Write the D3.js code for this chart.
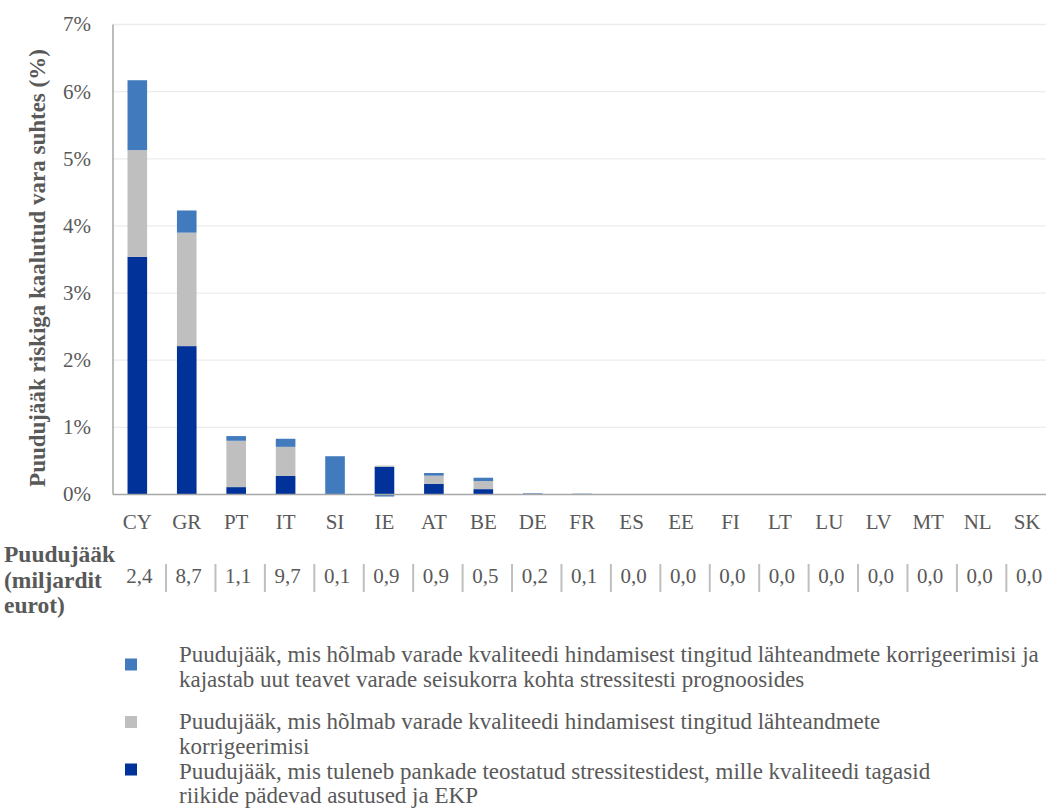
<!DOCTYPE html>
<html><head><meta charset="utf-8">
<script src="https://cdn.jsdelivr.net/npm/d3@7"></script>
<style>
html,body{margin:0;padding:0;background:#fff;}
</style></head>
<body><svg id="c" width="1046" height="808"></svg>
<script>
const categories = ["CY","GR","PT","IT","SI","IE","AT","BE","DE","FR","ES","EE","FI","LT","LU","LV","MT","NL","SK"];
// % of risk-weighted assets
const stressTest = [3.54,2.21,0.11,0.28,0,0.41,0.16,0.08,0.012,0,0,0,0,0,0,0,0,0,0];
const aqrAdjust  = [1.59,1.69,0.69,0.43,0,0.02,0.12,0.12,0,0.006,0,0,0,0,0,0,0,0,0];
const aqrJoin    = [1.04,0.33,0.07,0.12,0.57,-0.03,0.04,0.05,0.006,0.006,0,0,0,0,0,0,0,0,0];
const shortfallBn = [2.4,8.7,1.1,9.7,0.1,0.9,0.9,0.5,0.2,0.1,0,0,0,0,0,0,0,0,0];
const yTicks = [0,1,2,3,4,5,6,7];
const seriesKeys = ["stressTest","aqrAdjust","aqrJoin"];
const seriesColors = {stressTest:"#003299", aqrAdjust:"#bfbfbf", aqrJoin:"#417abd"};
const legendItems = [
  {key:"aqrJoin", lines:["Puudujääk, mis hõlmab varade kvaliteedi hindamisest tingitud lähteandmete korrigeerimisi ja","kajastab uut teavet varade seisukorra kohta stressitesti prognoosides"]},
  {key:"aqrAdjust", lines:["Puudujääk, mis hõlmab varade kvaliteedi hindamisest tingitud lähteandmete","korrigeerimisi"]},
  {key:"stressTest", lines:["Puudujääk, mis tuleneb pankade teostatud stressitestidest, mille kvaliteedi tagasid","riikide pädevad asutused ja EKP"]}
];
const yTitle = "Puudujääk riskiga kaalutud vara suhtes (%)";
const tableLabel = ["Puudujääk","(miljardit","eurot)"];

const FONT = '"Liberation Serif", "Times New Roman", serif';
const rows = categories.map((c,i)=>({cat:c, stressTest:stressTest[i], aqrAdjust:aqrAdjust[i], aqrJoin:aqrJoin[i]}));
const svg = d3.select("#c");
const textCol = "#595959";
const left = 113, right = 1046;

const x = d3.scaleBand().domain(categories).range([112.6, 112.6+19*49.43]).padding(0);
const y = d3.scaleLinear().domain([0,7]).range([494.5, 24.5]);
const barW = 19.6;

function txt(sel){ return sel.style("font-family",FONT).attr("fill",textCol); }

// gridlines
svg.append("g").selectAll("line").data(yTicks.filter(d=>d>0)).join("line")
  .attr("x1",left).attr("x2",right).attr("y1",d=>y(d)).attr("y2",d=>y(d))
  .attr("stroke","#ececec").attr("stroke-width",1.3);

// y tick labels
txt(svg.append("g").selectAll("text").data(yTicks).join("text"))
  .attr("x",91).attr("y",d=>y(d)).attr("dy","0.33em").attr("text-anchor","end")
  .attr("font-size",21).text(d=>d+"%");

// stacked bars
const stack = d3.stack().keys(seriesKeys).offset(d3.stackOffsetDiverging);
const layers = stack(rows);
svg.append("g").selectAll("g").data(layers).join("g")
  .attr("fill",d=>seriesColors[d.key])
  .selectAll("rect").data(d=>d).join("rect")
  .attr("x",d=>x(d.data.cat)+x.bandwidth()/2-barW/2)
  .attr("width",barW)
  .attr("y",d=>y(Math.max(d[0],d[1])))
  .attr("height",d=>Math.abs(y(d[0])-y(d[1])));

// axis lines
svg.append("line").attr("x1",left).attr("x2",left).attr("y1",y(7)).attr("y2",y(0))
  .attr("stroke","#a6a6a6").attr("stroke-width",1.5);
svg.append("line").attr("x1",left).attr("x2",right).attr("y1",y(0)).attr("y2",y(0))
  .attr("stroke","#a6a6a6").attr("stroke-width",1.5);

// y title
txt(svg.append("text")).attr("transform","translate(45,268) rotate(-90)")
  .attr("text-anchor","middle").attr("font-size",23).attr("font-weight","bold").text(yTitle);

// category labels
txt(svg.append("g").selectAll("text").data(categories).join("text"))
  .attr("x",d=>x(d)+x.bandwidth()/2).attr("y",528.5).attr("text-anchor","middle")
  .attr("font-size",21).text(d=>d);

// table row label
txt(svg.append("g").selectAll("text").data(tableLabel).join("text"))
  .attr("x",4).attr("y",(d,i)=>562+i*25.5).attr("font-size",23.5).attr("font-weight","bold").text(d=>d);

// table values
const fmt = v=>v.toFixed(1).replace(".",",");
txt(svg.append("g").selectAll("text").data(categories).join("text"))
  .attr("x",d=>x(d)+x.bandwidth()/2+2).attr("y",583).attr("text-anchor","middle")
  .attr("font-size",21).text((d,i)=>fmt(shortfallBn[i]));

// table separators
svg.append("g").selectAll("line").data(categories.slice(1)).join("line")
  .attr("x1",d=>x(d)+4).attr("x2",d=>x(d)+4).attr("y1",564).attr("y2",592)
  .attr("stroke","#bfbfbf").attr("stroke-width",2);

// legend
const lg = svg.append("g");
const squareY = [658.5, 716, 763.5];
const lineY = [[662,687],[729,754],[779,803]];
legendItems.forEach((it,i)=>{
  lg.append("rect").attr("x",125).attr("y",squareY[i]).attr("width",12).attr("height",12)
    .attr("fill",seriesColors[it.key]);
  it.lines.forEach((ln,j)=>{
    txt(lg.append("text")).attr("x",179).attr("y",lineY[i][j]).attr("font-size",23).text(ln);
  });
});
</script></body></html>
